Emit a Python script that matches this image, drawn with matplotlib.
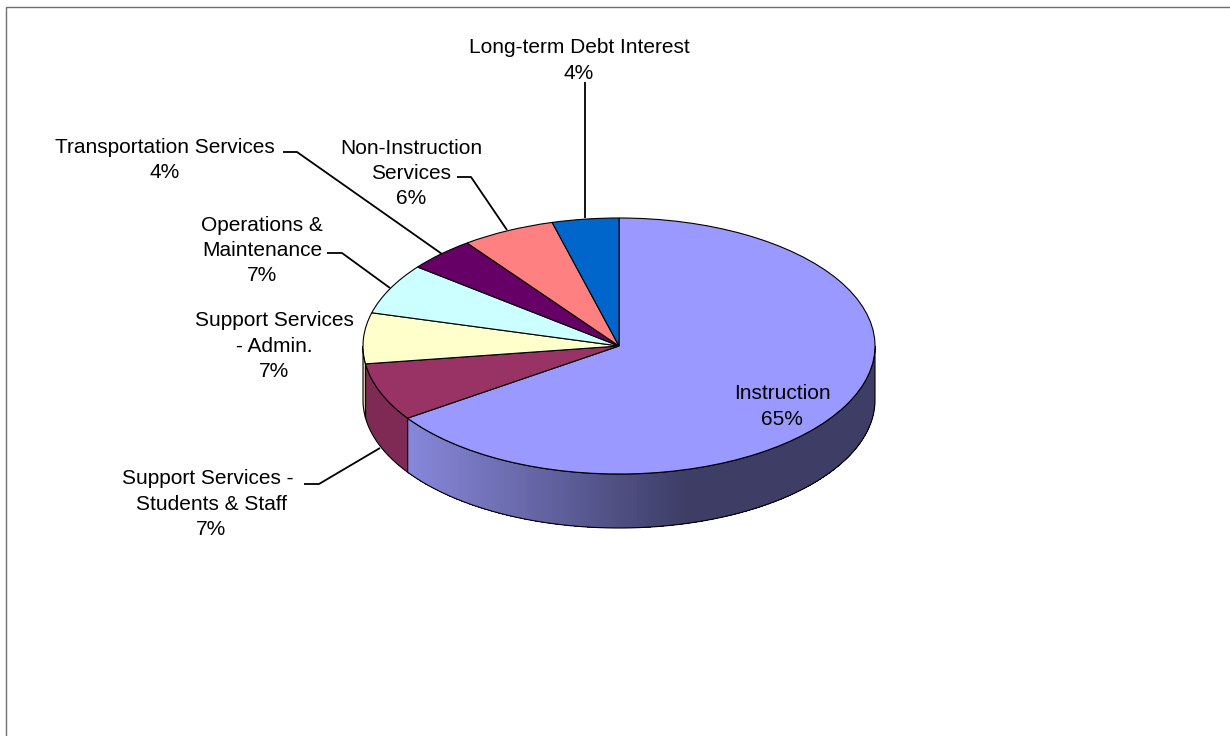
import numpy as np
import matplotlib
matplotlib.use("Agg")
import matplotlib.pyplot as plt

categories = ["Instruction", "Support Services - \nStudents & Staff", "Support Services\n- Admin.",
              "Operations &\nMaintenance", "Transportation Services", "Non-Instruction\nServices",
              "Long-term Debt Interest"]
shares = [65.4, 7.3, 6.4, 6.4, 4.3, 5.9, 4.2]
shown_pct = [65, 7, 7, 7, 4, 6, 4]
top_colors = ["#9999FF", "#993366", "#FFFFCC", "#CCFFFF", "#660066", "#FF8080", "#0066CC"]
side_colors = ["#8888DC", "#7F2A54", "#D9D9AC", "#ABD9D9", "#550055", "#D96C6C", "#0055AA"]

W, H = 1230, 736
CX, CY, RX, RY, DEPTH = 619.0, 346.0, 256.0, 128.0, 54.0
plt.rcParams["font.family"] = ["Liberation Sans", "DejaVu Sans"]

fig = plt.figure(figsize=(W / 100, H / 100), dpi=100, facecolor="white")

# Pie axes: the unit circle is stretched to the tilted ellipse
ax = fig.add_axes([0, 0, 1, 1])
ax.set_zorder(1)
ax.patch.set_visible(False)
depth = DEPTH / RY


def rim(t):
    """Rim point for clockwise angle t (degrees from 12 o'clock)."""
    r = np.radians(t)
    return np.sin(r), np.cos(r)


def lerp(c0, c1, f):
    a = np.array(matplotlib.colors.to_rgb(c0))
    b = np.array(matplotlib.colors.to_rgb(c1))
    return tuple(a + (b - a) * f)


edges = np.concatenate([[0], np.cumsum(shares)]) / np.sum(shares) * 360.0
dark = "#3D3D66"

# Side walls, only where the wall faces the viewer (90..270 degrees clockwise)
for i, col in enumerate(side_colors):
    lo, hi = max(edges[i], 90.0), min(edges[i + 1], 270.0)
    if hi <= lo:
        continue
    ts = np.linspace(lo, hi, 200)
    x, y = rim(ts)
    if i == 0:
        # Gradient painted as overlapping strips, so no seams show between them
        n = 200
        steps = np.linspace(lo, hi, n + 1)
        for a in steps[:-1]:
            tt = np.linspace(a, hi, 120)
            xs, ys = rim(tt)
            px = np.sin(np.radians(a))
            f = np.clip((0.27 - px) / (0.27 + 0.824), 0, 1)
            ax.fill(np.r_[xs, xs[::-1]], np.r_[ys, ys[::-1] - depth], facecolor=lerp(dark, col, f),
                    edgecolor="none", zorder=2)
    ax.fill(np.r_[x, x[::-1]], np.r_[y, y[::-1] - depth], facecolor="none" if i == 0 else col,
            edgecolor="black", linewidth=0.8, zorder=3)

wedges, _ = ax.pie(shares, colors=top_colors, startangle=90, counterclock=False, radius=1.0,
                   frame=False, wedgeprops=dict(edgecolor="black", linewidth=0.8))
for w in wedges:
    w.set_zorder(4)
ax.set_aspect("auto")
ax.set_xlim((0 - CX) / RX, (W - CX) / RX)
ax.set_ylim((CY - H) / RY, (CY - 0) / RY)
ax.axis("off")

# Overlay axes in image pixels for border, leader lines and labels
ov = fig.add_axes([0, 0, 1, 1])
ov.set_zorder(2)
ov.patch.set_visible(False)
ov.set_xlim(0, W)
ov.set_ylim(H, 0)
ov.axis("off")

ov.plot([5.5, 5.5, W], [H, 6.5, 6.5], color="#707070", lw=1.0, solid_capstyle="butt")

leaders = [
    ([584.5, 584.5], [82, 218]),
    ([457, 471, 507], [177, 177, 230]),
    ([283, 297, 442], [152, 152, 254]),
    ([327, 342, 390], [253, 253, 288]),
    ([304, 319, 380], [484, 484, 448]),
]
for xs, ys in leaders:
    ov.plot(xs, ys, color="black", lw=1.3, zorder=1, solid_capstyle="butt")

label_pos = [(782, 406.5), (211, 504), (274, 346), (262, 250.5), (165, 160), (411, 173.5), (579, 60.5)]
for name, pct, (x, y) in zip(categories, shown_pct, label_pos):
    ov.text(x, y, f"{name}\n{pct}%", ha="center", va="center", ma="center", fontsize=15,
            color="black", linespacing=1.41, zorder=5)

fig.savefig("out.png", dpi=100, facecolor="white")
